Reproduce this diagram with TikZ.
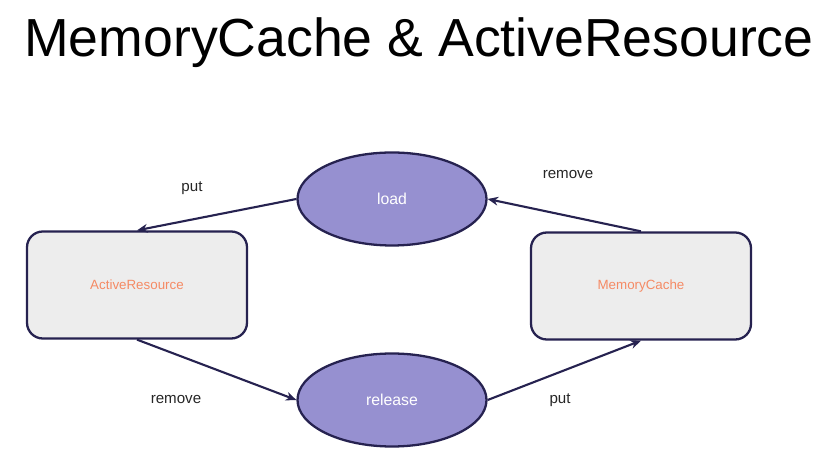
\documentclass[tikz,border=0pt]{standalone}
\usepackage{fontspec}
\setmainfont{Liberation Sans}
\usepackage{tikz}
\usetikzlibrary{shapes.geometric,arrows.meta,positioning}
\definecolor{lavender}{HTML}{9690D0}
\definecolor{navy}{HTML}{262250}
\definecolor{boxgray}{HTML}{EDEDED}
\definecolor{salmon}{HTML}{F58A64}

\begin{document}
\begin{tikzpicture}[
  store/.style={draw=navy, line width=1.3pt, rounded corners=9pt, fill=boxgray,
    minimum width=4.4cm, minimum height=2.14cm, font=\fontsize{7.6}{9}\selectfont, text=salmon},
  op/.style={draw=navy, line width=1.3pt, ellipse, fill=lavender,
    minimum width=3.78cm, minimum height=1.86cm, font=\fontsize{9}{11}\selectfont, text=white},
  lbl/.style={font=\fontsize{8.6}{10}\selectfont, text=black!85},
  flow/.style={->, draw=navy, line width=1.2pt},
  >={Stealth[length=6pt,width=5pt]}
]
\useasboundingbox (0,0) rectangle (16.78,9.36);
\node (title) at (8.38,8.5) {\fontsize{30.5}{36}\selectfont MemoryCache \& ActiveResource};

\node[op] (load) at (7.84,5.38) {load};
\node[op] (release) at (7.84,1.36) {release};
\node[store] (active) at (2.74,3.66) {ActiveResource};
\node[store] (cache) at (12.82,3.64) {MemoryCache};

% the four flows run round the loop: load -> active -> release -> cache -> load
\draw[flow] (load.west) -- (active.north);
\draw[flow] (cache.north) -- (load.east);
\draw[flow] (active.south) -- (release.west);
\draw[flow] (release.east) -- (cache.south);

\node[lbl] (putA) at (3.84,5.6) {put};
\node[lbl] (remA) at (11.36,5.86) {remove};
\node[lbl] (remB) at (3.52,1.36) {remove};
\node[lbl] (putB) at (11.2,1.36) {put};
\end{tikzpicture}
\end{document}
